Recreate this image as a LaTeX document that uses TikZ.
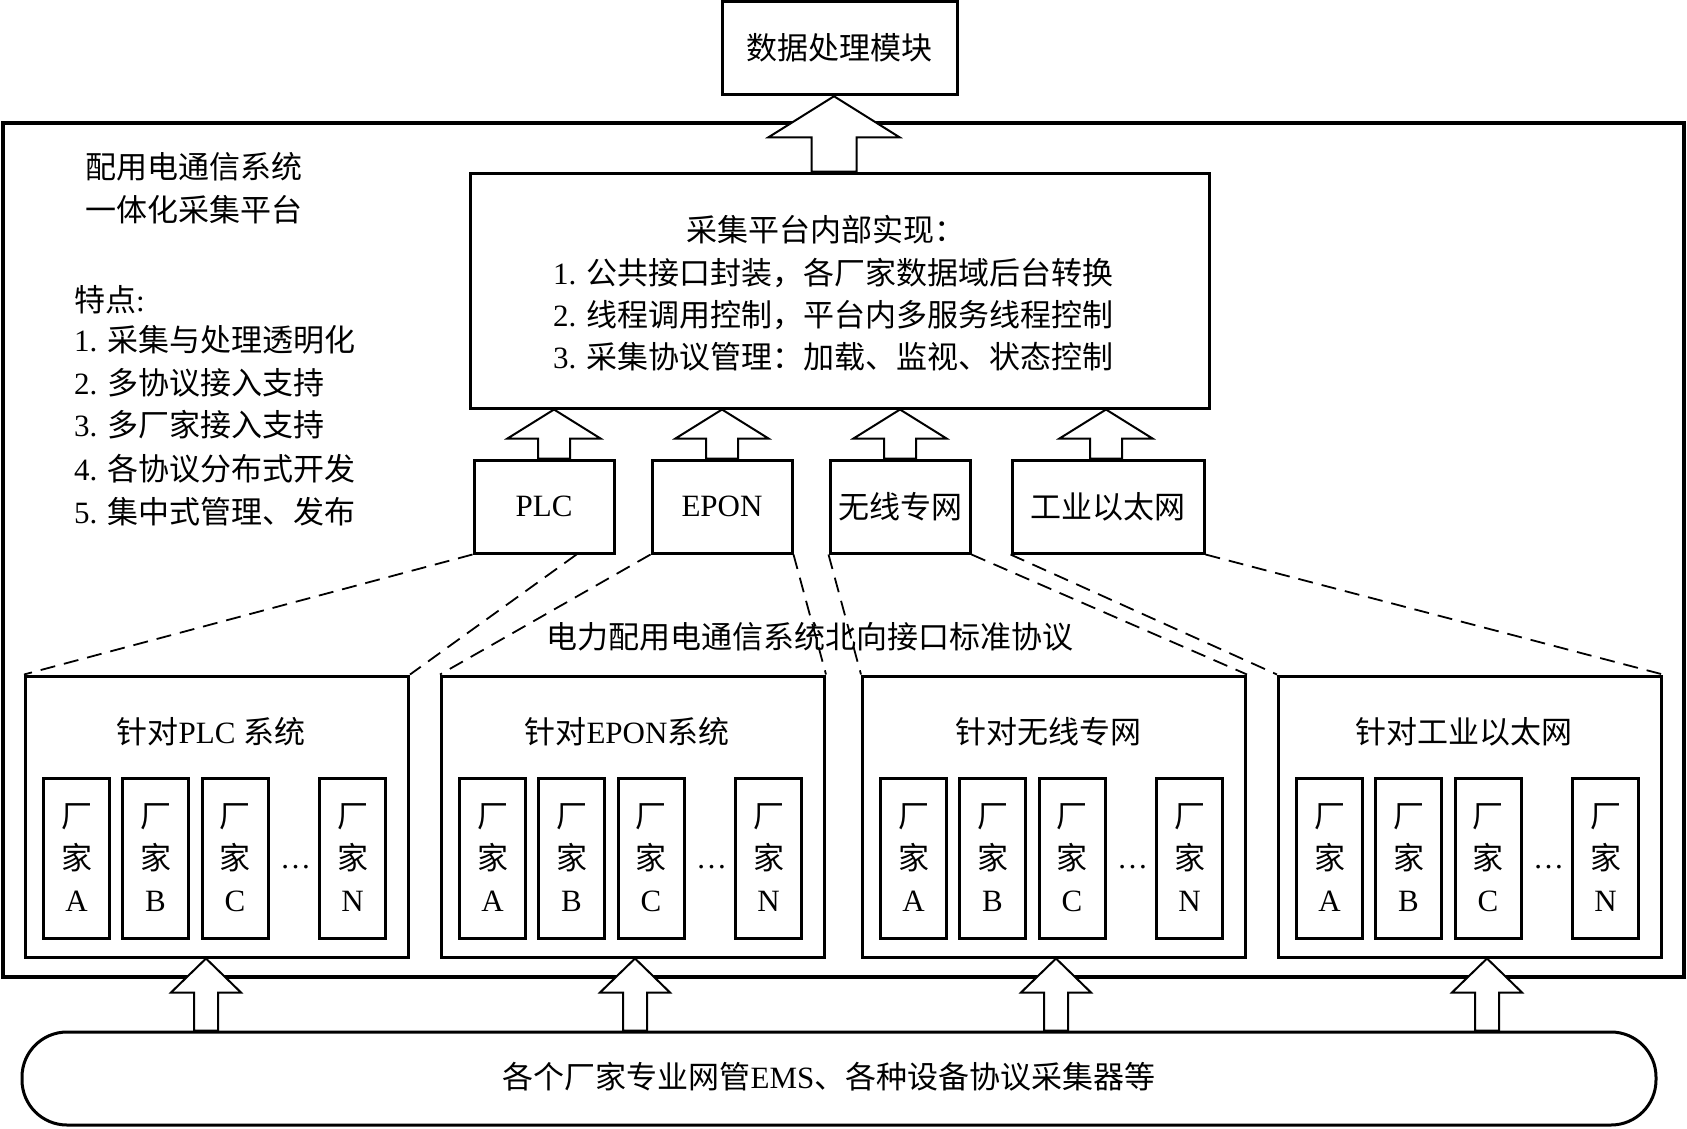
\documentclass[tikz,border=0pt]{standalone}
\usepackage{fontspec}
\setmainfont{Liberation Serif}
\newfontfamily\cjk{Noto Sans CJK SC}
\newcommand\zh[1]{{\cjk #1}}
\usetikzlibrary{calc}
\tikzset{
  box/.style={draw, line width=3pt, inner sep=0pt, fill=white},
  vbox/.style={draw, line width=3pt, inner sep=0pt, minimum width=66pt, minimum height=160pt, align=center},
  dline/.style={line width=1.8pt, dash pattern=on 15pt off 9pt},
  arrowline/.style={draw, fill=white, line width=2pt, line join=miter},
}
\newcommand\blockarrow[6]{%
  \path (#1,0 |- #2) coordinate (bat) (#1,0 |- #3) coordinate (bab);
  \draw[arrowline] (bat) -- ($(bat)+(#4,#6)$) -- ($(bat)+(#5,#6)$) -- ($(bab)+(#5,0)$)
    -- ($(bab)+(-#5,0)$) -- ($(bat)+(-#5,#6)$) -- ($(bat)+(-#4,#6)$) -- cycle;
}
\newcommand\sysbox[3]{%
  \node[box, minimum width=383pt, minimum height=281pt] (#1) at (#2,816.5) {};
  \node (#1t) at (#2-6,732) {#3};
  \node[vbox] (#1a) at (#2-191.5+51,858) {\zh{厂}\\\zh{家}\\A};
  \node[vbox] (#1b) at (#2-191.5+130,858) {\zh{厂}\\\zh{家}\\B};
  \node[vbox] (#1c) at (#2-191.5+209.5,858) {\zh{厂}\\\zh{家}\\C};
  \node[vbox] (#1n) at (#2-191.5+327,858) {\zh{厂}\\\zh{家}\\N};
  \node[inner sep=0pt] (#1d) at (#2-191.5+270,867) {…};
}
\begin{document}
\begin{tikzpicture}[x=1pt, y=-1pt, font=\fontsize{31}{42}\selectfont]
\useasboundingbox[fill=white] (0,0) rectangle (1687,1128);

% outer frame
\node[box, fill=none, line width=3.5pt, minimum width=1681pt, minimum height=854pt] (outer) at (843.5,550) {};

% top module
\node[box, minimum width=235pt, minimum height=93.5pt] (dp) at (839.5,48) {\zh{数据处理模块}};

% left texts
\node[anchor=west, inner sep=0pt] (h1) at (85,167) {\zh{配用电通信系统}};
\node[anchor=west, inner sep=0pt] (h2) at (85,210) {\zh{一体化采集平台}};
\node[anchor=west, inner sep=0pt] (f0) at (74,300) {\zh{特点}:};
\node[anchor=west, inner sep=0pt] (f1) at (74,340) {1. \zh{采集与处理透明化}};
\node[anchor=west, inner sep=0pt] (f2) at (74,383) {2. \zh{多协议接入支持}};
\node[anchor=west, inner sep=0pt] (f3) at (74,425) {3. \zh{多厂家接入支持}};
\node[anchor=west, inner sep=0pt] (f4) at (74,469) {4. \zh{各协议分布式开发}};
\node[anchor=west, inner sep=0pt] (f5) at (74,512) {5. \zh{集中式管理、发布}};

% inner implementation box
\node[box, minimum width=739pt, minimum height=235pt] (impl) at (839.5,290.5) {};
\node (implt) at (826,230) {\zh{采集平台内部实现：}};
\node[anchor=west, inner sep=0pt] (impl1) at (553,273) {1. \zh{公共接口封装，各厂家数据域后台转换}};
\node[anchor=west, inner sep=0pt] (impl2) at (553,315) {2. \zh{线程调用控制，平台内多服务线程控制}};
\node[anchor=west, inner sep=0pt] (impl3) at (553,357) {3. \zh{采集协议管理：加载、监视、状态控制}};

% middle boxes
\node[box, minimum width=140pt, minimum height=93pt] (plc) at (544,506.5) {PLC};
\node[box, minimum width=140pt, minimum height=93pt] (epon) at (722,506.5) {EPON};
\node[box, minimum width=140pt, minimum height=93pt] (wx) at (900,506.5) {\zh{无线专网}};
\node[box, minimum width=192pt, minimum height=93pt] (gy) at (1108,506.5) {\zh{工业以太网}};

% system boxes
\sysbox{s1}{217}{\zh{针对}PLC \zh{系统}}
\sysbox{s2}{633}{\zh{针对}EPON\zh{系统}}
\sysbox{s3}{1054}{\zh{针对无线专网}}
\sysbox{s4}{1470}{\zh{针对工业以太网}}

% label
\node (lab) at (810,637) {\zh{电力配用电通信系统北向接口标准协议}};

% bottom bar
\node[draw, line width=3pt, rounded corners=45pt, minimum width=1634pt, minimum height=93pt] (bar) at (839,1078.5) {};
\node (bart) at (829,1077) {\zh{各个厂家专业网管}EMS\zh{、各种设备协议采集器等}};

% dashed connectors
\draw[dline] (plc.south west) -- (s1.north west);
\draw[dline] ([xshift=104pt]plc.south west) -- (s1.north east);
\draw[dline] (epon.south west) -- (s2.north west);
\draw[dline] (epon.south east) -- (s2.north east);
\draw[dline] (wx.south west) -- (s3.north west);
\draw[dline] (wx.south east) -- (s3.north east);
\draw[dline] (gy.south west) -- (s4.north west);
\draw[dline] (gy.south east) -- (s4.north east);

% block arrows
\blockarrow{834}{dp.south}{impl.north}{65.5}{22.5}{41}
\blockarrow{554}{impl.south}{plc.north}{46.5}{16}{29}
\blockarrow{722}{impl.south}{epon.north}{46.5}{16}{29}
\blockarrow{900}{impl.south}{wx.north}{46.5}{16}{29}
\blockarrow{1106}{impl.south}{gy.north}{46.5}{16}{29}
\blockarrow{206}{s1.south}{bar.north}{35}{12}{34}
\blockarrow{635}{s2.south}{bar.north}{35}{12}{34}
\blockarrow{1056}{s3.south}{bar.north}{35}{12}{34}
\blockarrow{1487}{s4.south}{bar.north}{35}{12}{34}
\end{tikzpicture}
\end{document}
